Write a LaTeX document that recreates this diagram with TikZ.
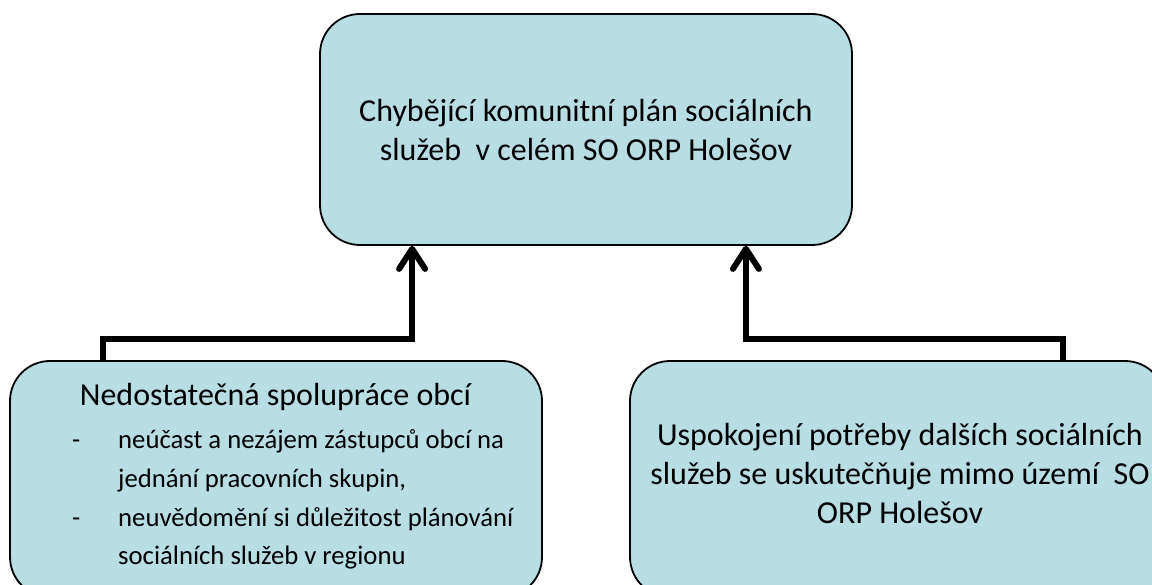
\documentclass[tikz,border=0pt]{standalone}
\usepackage{fontspec}
\setmainfont{Carlito}
\usetikzlibrary{arrows.meta}
\definecolor{boxfill}{RGB}{183,222,227}
\newcommand{\dashitem}{\llap{-\hspace{38pt}}}
\tikzset{
  rbox/.style={draw=black, line width=1.8pt, fill=boxfill, rounded corners=40pt, inner sep=0pt},
  bigtxt/.style={font=\fontsize{32}{39}\selectfont, align=center, inner sep=0pt},
  smalltxt/.style={font=\fontsize{26.7}{38.8}\selectfont, align=left, inner sep=0pt},
  conn/.style={line width=6pt, line join=miter, -{Straight Barb[length=20pt,width=26pt,line cap=round,line join=round]}}
}
\begin{document}
\begin{tikzpicture}[x=1pt,y=-1pt]
\useasboundingbox (0,0) rectangle (1152,585);
% boxes
\node[rbox, minimum width=532pt, minimum height=231pt] (T) at (586,129.5) {};
\node[rbox, minimum width=532pt, minimum height=236pt] (L) at (276,479) {};
\node[rbox, minimum width=535pt, minimum height=236pt] (R) at (897.5,479) {};
% texts
\node[bigtxt] (Tt) at (586,130) {Chybějící komunitní plán sociálních\\služeb~ v celém SO ORP Holešov};
\node[bigtxt] (Lt) at (275.5,397) {Nedostatečná spolupráce obcí};
\node[smalltxt, anchor=west] (Lb) at (118,499.5) {\dashitem neúčast a nezájem zástupců obcí na\\jednání pracovních skupin,\\\dashitem neuvědomění si důležitost plánování\\sociálních služeb v regionu};
\node[bigtxt] (Rt) at (900,474) {Uspokojení potřeby dalších sociálních\\služeb se uskutečňuje mimo území~ SO\\ORP Holešov};
% connectors
\draw[conn] ([xshift=94pt]L.north west) -- ++(0,-21) -| ([xshift=93pt]T.south west);
\draw[conn] ([xshift=-103pt]R.north east) -- ++(0,-21) -| ([xshift=-107pt]T.south east);
\end{tikzpicture}
\end{document}
